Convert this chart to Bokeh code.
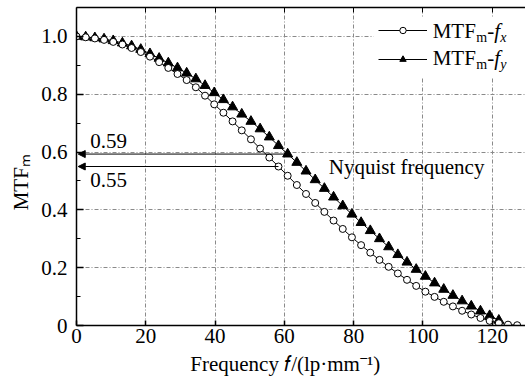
from bokeh.plotting import figure
from bokeh.models import (Range1d, FixedTicker, LinearAxis, Label, Arrow, NormalHead,
                          Legend, LegendItem, BoxAnnotation)
from bokeh.embed import file_html
from bokeh.resources import INLINE

# ---------------- data ----------------
freq = [0.0, 2.65, 5.3, 7.95, 10.6, 13.25, 15.9, 18.55, 21.2, 23.85, 26.5, 29.15,
        31.8, 34.45, 37.1, 39.75, 42.4, 45.05, 47.7, 50.35, 53.0, 55.65, 58.3, 60.95,
        63.6, 66.25, 68.9, 71.55, 74.2, 76.85, 79.5, 82.15, 84.8, 87.45, 90.1, 92.75,
        95.4, 98.05, 100.7, 103.35, 106.0, 108.65, 111.3, 113.95, 116.6, 119.25, 121.9,
        124.55, 127.2]

mtf_fx = [1.000, 0.997, 0.993, 0.988, 0.981, 0.972, 0.960, 0.946, 0.930, 0.911, 0.891,
          0.870, 0.849, 0.824, 0.795, 0.765, 0.736, 0.706, 0.675, 0.644, 0.612, 0.581,
          0.550, 0.518, 0.486, 0.455, 0.424, 0.393, 0.363, 0.334, 0.305, 0.278, 0.252,
          0.227, 0.203, 0.180, 0.158, 0.137, 0.117, 0.099, 0.082, 0.066, 0.051, 0.038,
          0.026, 0.016, 0.008, 0.003, 0.001]

mtf_fy = [1.000, 0.998, 0.995, 0.991, 0.985, 0.977, 0.967, 0.955, 0.940, 0.924, 0.908,
          0.891, 0.873, 0.853, 0.830, 0.805, 0.781, 0.756, 0.731, 0.706, 0.680, 0.652,
          0.622, 0.593, 0.564, 0.534, 0.504, 0.474, 0.444, 0.414, 0.385, 0.356, 0.328,
          0.300, 0.272, 0.245, 0.219, 0.194, 0.170, 0.147, 0.125, 0.104, 0.085, 0.067,
          0.050, 0.034, 0.018]
freq_fy = freq[:len(mtf_fy)]

x_ticks = [0, 20, 40, 60, 80, 100, 120]
x_tick_labels = ["0", "20", "40", "60", "80", "100", "120"]
y_ticks = [0, 0.2, 0.4, 0.6, 0.8, 1.0]
y_tick_labels = ["0", "0.2", "0.4", "0.6", "0.8", "1.0"]
y_minor = [0.1, 0.3, 0.5, 0.7, 0.9]

x_title = "Frequency 𝑓/(lp·mm⁻¹)"
y_title = "MTFₘ"

nyq_fx_idx = 22   # MTF_m-f_x at Nyquist: 0.55
nyq_fy_idx = 23   # MTF_m-f_y at Nyquist: 0.59
nyq_fx_text = "0.55"
nyq_fy_text = "0.59"
nyq_text = "Nyquist frequency"

FONT = "Liberation Serif"
FS = "21px"
FS_SMALL = "14px"
NBSP = "\u00a0"

W, H = 525, 385
p = figure(width=W, height=H, output_backend="svg", toolbar_location=None,
           x_range=Range1d(0, 129.6), y_range=Range1d(0, 1.1),
           min_border_left=76, min_border_right=0, min_border_top=7, min_border_bottom=60)
p.outline_line_color = None
p.background_fill_color = "white"
p.border_fill_color = "white"

# axes
xa = p.xaxis[0]
ya = p.yaxis[0]
xa.ticker = FixedTicker(ticks=x_ticks)
xa.major_label_overrides = {t: l for t, l in zip(x_ticks, x_tick_labels)}
ya.ticker = FixedTicker(ticks=y_ticks, minor_ticks=y_minor)
ya.major_label_overrides = {t: l for t, l in zip(y_ticks, y_tick_labels)}
for ax in (xa, ya):
    ax.axis_line_width = 1.5
    ax.axis_line_color = "black"
    ax.major_tick_line_color = "black"
    ax.major_tick_line_width = 1.5
    ax.major_tick_out = 0
    ax.major_label_text_font = FONT
    ax.major_label_text_font_size = FS
    ax.major_label_text_color = "black"
    ax.axis_label_text_font = FONT
    ax.axis_label_text_font_size = FS
    ax.axis_label_text_font_style = "normal"
    ax.axis_label_text_color = "black"
xa.major_tick_in = 5
xa.minor_tick_line_color = None
xa.major_label_standoff = 3
xa.axis_label = x_title + NBSP * 6
xa.axis_label_standoff = 6
ya.major_tick_in = 7
ya.minor_tick_in = 4
ya.minor_tick_out = 0
ya.minor_tick_line_color = "black"
ya.minor_tick_line_width = 1.2
ya.major_label_standoff = 9
ya.axis_label = y_title + NBSP * 6
ya.axis_label_standoff = 5

top = LinearAxis(ticker=FixedTicker(ticks=x_ticks), major_label_text_font_size="0px",
                 major_label_standoff=0, major_tick_in=5, major_tick_out=0,
                 minor_tick_line_color=None, axis_line_width=1.5)
top.major_label_text_alpha = 0
p.add_layout(top, "above")

for g in (p.xgrid[0], p.ygrid[0]):
    g.grid_line_color = "#8a8a8a"
    g.grid_line_dash = "4 2 1 2"
    g.grid_line_width = 1

# white area behind the legend (hides the grid there)
p.add_layout(BoxAnnotation(left=85.7, right=129.6, top=1.069, bottom=0.86,
                           fill_color="white", fill_alpha=1.0, line_color=None,
                           level="underlay"))

# data
fy_line = p.line(freq_fy, mtf_fy, line_color="black", line_width=1)
fy_pts = p.scatter(freq_fy, mtf_fy, marker="triangle", size=10, fill_color="black",
                   line_color="black")
fx_line = p.line(freq, mtf_fx, line_color="black", line_width=1)
fx_pts = p.scatter(freq, mtf_fx, marker="circle", size=7, fill_color="white",
                   line_color="black", line_width=1)

# Nyquist arrows
for idx, xs, ys in ((nyq_fy_idx, freq, mtf_fy), (nyq_fx_idx, freq, mtf_fx)):
    p.add_layout(Arrow(end=NormalHead(size=7, fill_color="black", line_color="black",
                                      line_width=1),
                       x_start=xs[idx], y_start=ys[idx], x_end=0.5, y_end=ys[idx],
                       line_color="black", line_width=1))

# legend glyphs (transparent box; texts drawn as labels)
legend = Legend(items=[LegendItem(label=" ", renderers=[fx_line, fx_pts]),
                       LegendItem(label=" ", renderers=[fy_line, fy_pts])],
                location=(302, 252), padding=5, margin=0, spacing=0,
                glyph_width=49, glyph_height=16, label_height=29, label_width=78,
                label_standoff=5, label_text_font_size="10px",
                border_line_color=None, background_fill_color=None,
                background_fill_alpha=0.0)
p.add_layout(legend)


def rich(x, y, pieces):
    for text, dx, dy, size, style in pieces:
        p.add_layout(Label(x=x, y=y, x_offset=dx, y_offset=dy, text=text,
                           text_font=FONT, text_font_size=size, text_font_style=style,
                           text_color="black", text_align="left",
                           text_baseline="middle", level="overlay"))


rich(4.0, 0.6394, [(nyq_fy_text, 0, 0, FS, "normal")])
rich(4.0, 0.5031, [(nyq_fx_text, 0, 0, FS, "normal")])
rich(72.8, 0.5495, [(nyq_text, 0, 0, FS, "normal")])

# legend texts
rich(102.8, 1.020, [("MTF", 0, 0, FS, "normal"), ("m", 43.5, -6.4, FS_SMALL, "normal"),
                    ("-", 54.5, 0, FS, "normal"), ("f", 61.5, 0, FS, "italic"),
                    ("x", 67.5, -6.4, FS_SMALL, "italic")])
rich(102.8, 0.9242, [("MTF", 0, 0, FS, "normal"), ("m", 43.5, -6.4, FS_SMALL, "normal"),
                     ("-", 54.5, 0, FS, "normal"), ("f", 61.5, 0, FS, "italic"),
                     ("y", 67.5, -6.4, FS_SMALL, "italic")])

open("out.html", "w").write(file_html(p, INLINE))
